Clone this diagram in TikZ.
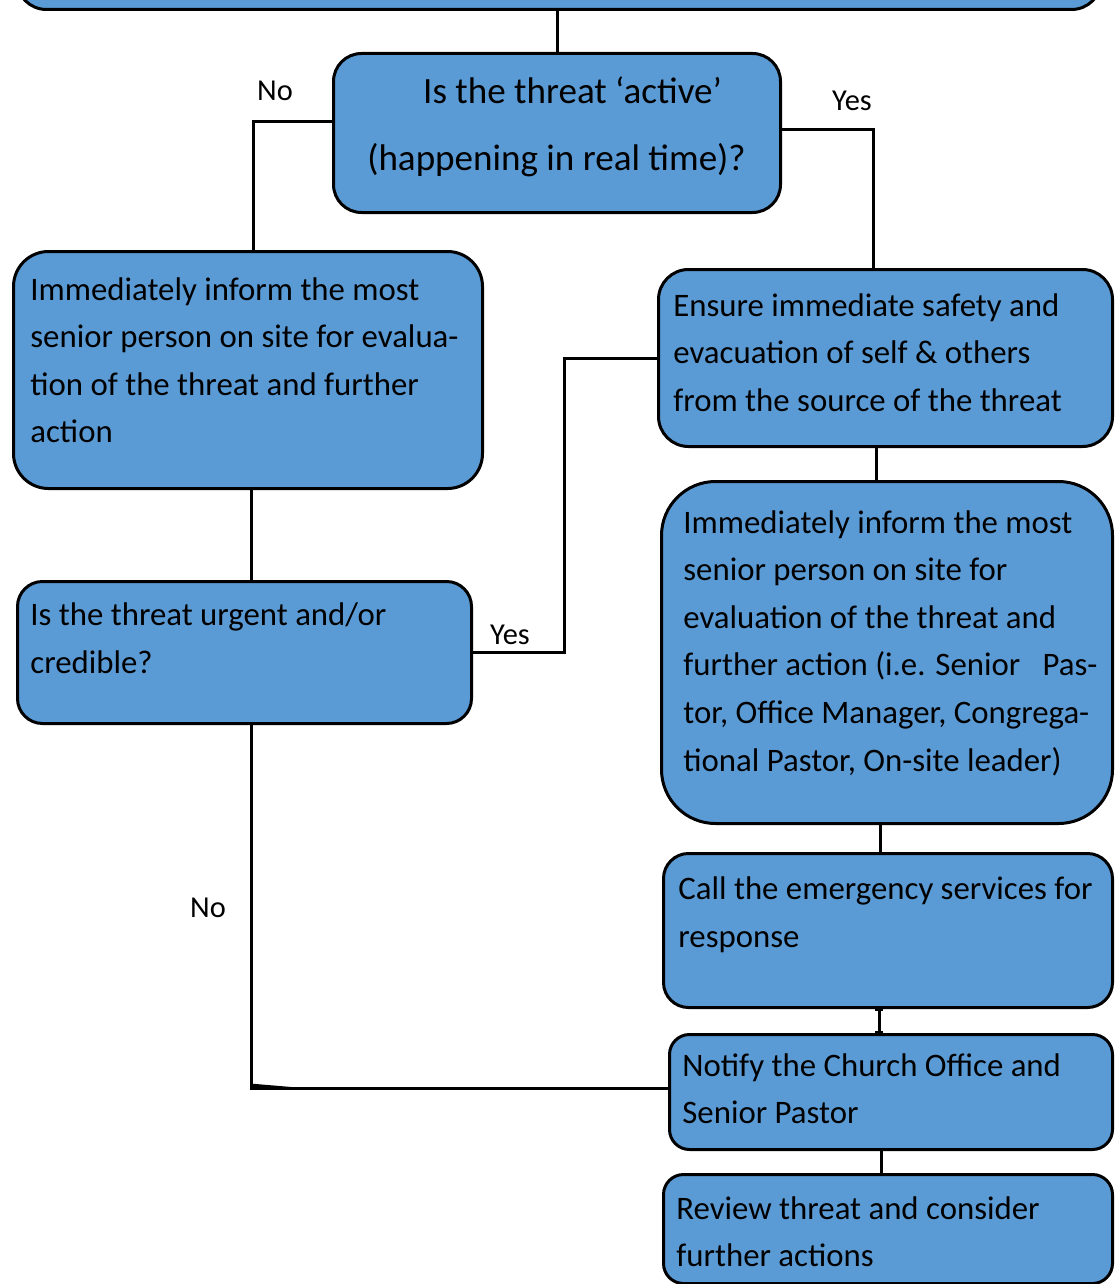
\documentclass[tikz,border=0pt]{standalone}
\usepackage{fontspec}
\setmainfont{Carlito}
\usetikzlibrary{calc,arrows.meta}
\definecolor{boxblue}{RGB}{91,155,213}
\begin{document}
\begin{tikzpicture}[x=0.5pt,y=-0.5pt,
  box/.style={draw=black, line width=1.5pt, fill=boxblue, anchor=north west, inner sep=0pt},
  txt/.style={anchor=base west, align=left, inner sep=0pt, font=\fontsize{16.4}{23.7}\selectfont},
  conn/.style={draw=black, line width=1.5pt},
  lbl/.style={font=\fontsize{15.2}{18}\selectfont, inner sep=0pt}]
\useasboundingbox (0,0) rectangle (1114,1284);
\fill[white] (0,0) rectangle (1114,1284);
\begin{scope}
\clip (0,0) rectangle (1114,1284);
% boxes
\node[box, rounded corners=15pt, minimum width=542.5pt, minimum height=45pt] (top) at (15,-82) {};
\node[box, rounded corners=14pt, minimum width=223.5pt, minimum height=79.5pt] (Q1) at (332,52) {};
\node[box, rounded corners=17.5pt, minimum width=234.5pt, minimum height=118.5pt] (A) at (12,250) {};
\node[box, rounded corners=15pt, minimum width=227pt, minimum height=88.5pt] (B) at (657,268) {};
\node[box, rounded corners=12.5pt, minimum width=227pt, minimum height=71pt] (C) at (16,580) {};
\node[box, rounded corners=27pt, minimum width=225.5pt, minimum height=171pt] (D) at (660,480) {};
\node[box, rounded corners=12.5pt, minimum width=224.5pt, minimum height=77pt] (E) at (662,852) {};
\node[box, rounded corners=10pt, minimum width=221.5pt, minimum height=57.5pt] (F) at (668,1033) {};
\node[box, rounded corners=10pt, minimum width=224.5pt, minimum height=54.5pt] (G) at (662,1173) {};
% texts (anchored at the baseline of their last line)
\node[txt, anchor=base, align=center, font=\fontsize{18.55}{33.3}\selectfont] (Q1t) at (556.5,170)
  {\hspace*{16pt}Is the threat ‘active’\\(happening in real time)?};
\node[txt] (At) at (30,442.7)
  {Immediately inform the most\\senior person on site for evalua-\\tion of the threat and further\\action};
\node[txt] (Bt) at (673,411)
  {Ensure immediate safety and\\evacuation of self \& others\\from the source of the threat};
\node[txt] (Ct) at (30,673)
  {Is the threat urgent and/or\\credible?};
\node[txt, font=\fontsize{16.4}{23.8}\selectfont] (Dt) at (683,771)
  {Immediately inform the most\\senior person on site for\\evaluation of the threat and\\further action (i.e. Senior~~~Pas-\\tor, Office Manager, Congrega-\\tional Pastor, On-site leader)};
\node[txt] (Et) at (678,947)
  {Call the emergency services for\\response};
\node[txt] (Ft) at (682,1123.8)
  {Notify the Church Office and\\Senior Pastor};
\node[txt] (Gt) at (676,1266.8)
  {Review threat and consider\\further actions};
\end{scope}
% connectors
\draw[conn] (Q1.north) -- (Q1.north |- top.south);
\coordinate (q1l) at ($(Q1.west)+(0,-11.5)$);
\draw[conn] (q1l) -| ($(A.north)+(5.5,0)$);
\coordinate (q1r) at ($(Q1.east)+(0,-3.5)$);
\draw[conn] (q1r) -| ($(B.north)+(-12,0)$);
\coordinate (ac) at ($(A.south)+(3.5,0)$);
\draw[conn] (ac) -- (ac |- C.north);
\coordinate (cy) at ($(C.east)+(91,0)$);
\draw[conn] (C.east) -- (cy) |- (B.west);
\coordinate (cn) at ($(C.south)+(7,0)$);
\coordinate (fw) at ($(F.west)+(0,-3.5)$);
\draw[conn] (cn) |- (fw);
\coordinate (wedge) at (cn |- fw);
\fill[black] ($(wedge)+(-1.5,-5)$) -- ($(wedge)+(40,-1.5)$) -- ($(wedge)+(-1.5,1.5)$) -- cycle;
\coordinate (bd) at ($(B.south)+(-9,0)$);
\draw[conn] (bd) -- (bd |- D.north);
\coordinate (de) at ($(D.north)+(-7,0)$);
\draw[conn] (de |- D.south) -- (de |- E.north);
\coordinate (ef) at ($(E.north)+(-9,0)$);
\draw[conn, {Bar[width=4pt,line width=1pt]}-{Bar[width=4pt,line width=1pt]}] (ef |- E.south) -- (ef |- F.north);
\coordinate (fg) at ($(F.north)+(-9.5,0)$);
\draw[conn] (fg |- F.south) -- (fg |- G.north);
% labels
\node[lbl] (lno1) at (275,91) {No};
\node[lbl] (lyes1) at (852,101) {Yes};
\node[lbl] (lyes2) at (510,635) {Yes};
\node[lbl] (lno2) at (208,908) {No};
\end{tikzpicture}
\end{document}
